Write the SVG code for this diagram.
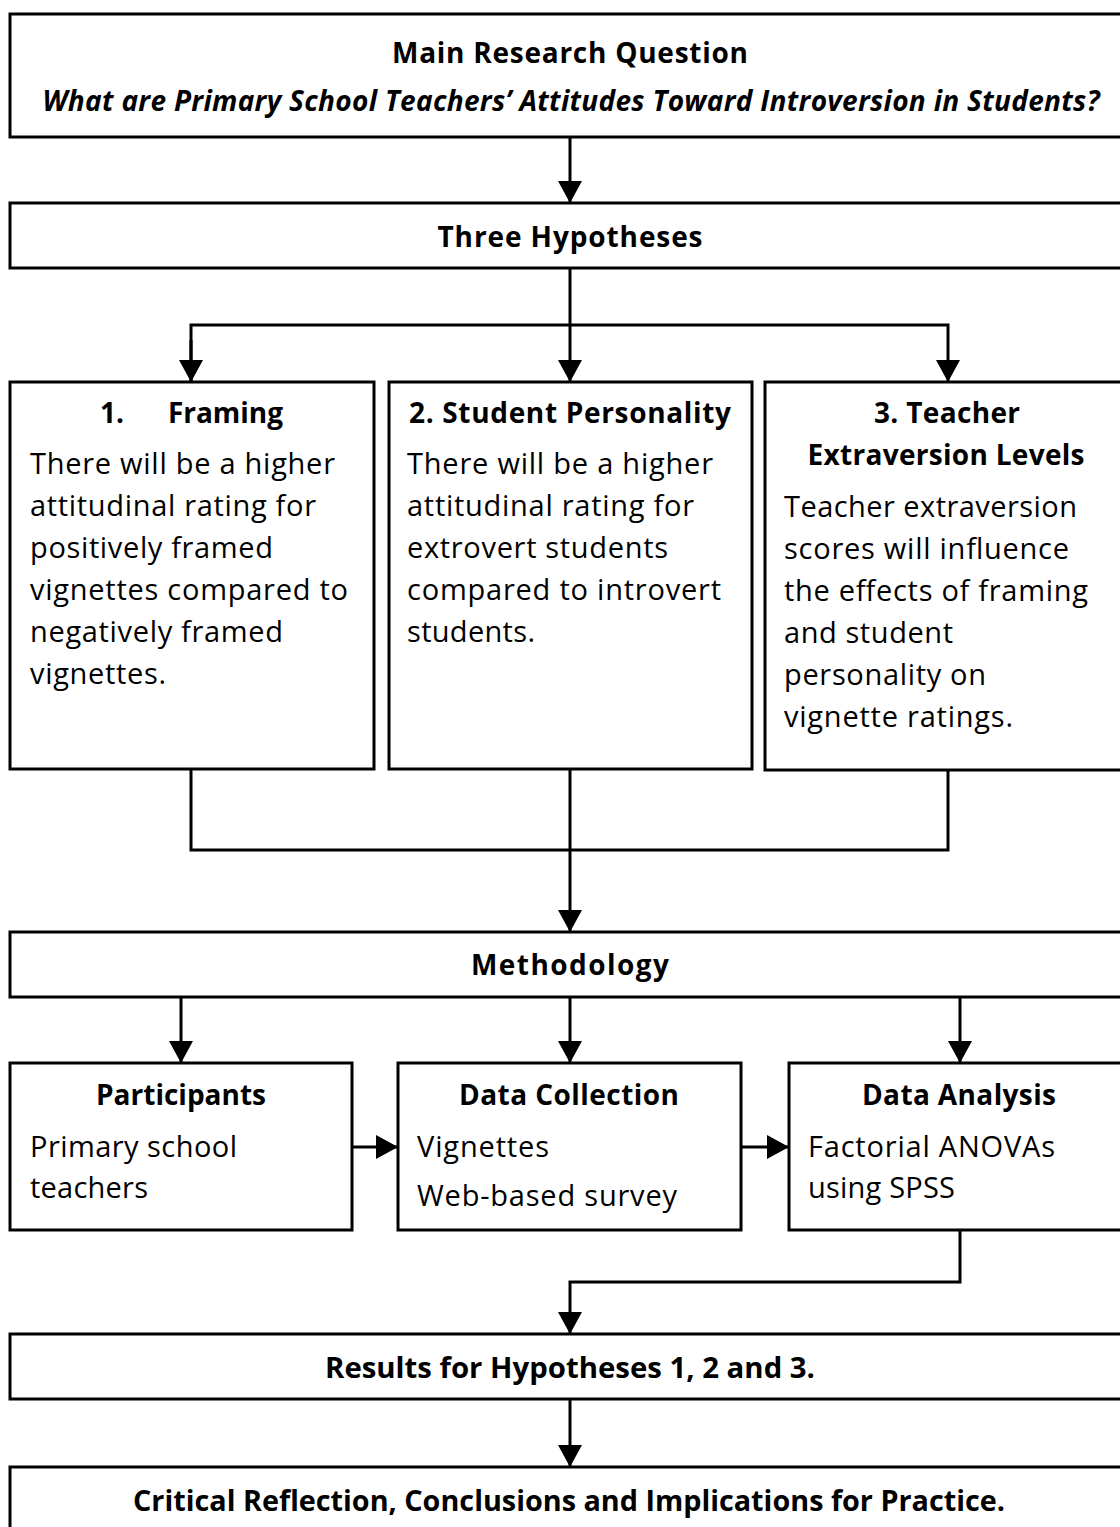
<svg xmlns="http://www.w3.org/2000/svg" width="1120" height="1527" viewBox="0 0 1120 1527">
  <style>
    .box { fill: #ffffff; stroke: #000000; stroke-width: 3; }
    .link { fill: none; stroke: #000000; stroke-width: 3; }
    .t { font-family: "Open Sans", "Noto Sans", sans-serif; font-size: 29px; fill: #000000; }
    .b { font-weight: bold; font-size: 28px; }
    .i { font-style: italic; }
    .c { text-anchor: middle; }
  </style>
  <defs>
    <marker id="arrow" markerUnits="userSpaceOnUse" markerWidth="22" markerHeight="24" refX="22" refY="12" orient="auto">
      <path d="M0,0 L22,12 L0,24 Z" fill="#000000"/>
    </marker>
  </defs>

  <rect width="1120" height="1527" fill="#ffffff"/>

  <!-- connectors -->
  <g id="connectors">
    <line class="link" x1="570" y1="137" x2="570" y2="203" marker-end="url(#arrow)"/>
    <polyline class="link" points="570,268 570,325"/>
    <polyline class="link" points="191,382 191,325 948,325 948,382" marker-end="url(#arrow)"/>
    <line class="link" x1="191" y1="340" x2="191" y2="382" marker-end="url(#arrow)"/>
    <line class="link" x1="570" y1="325" x2="570" y2="382" marker-end="url(#arrow)"/>
    <polyline class="link" points="191,769 191,850 948,850 948,770"/>
    <line class="link" x1="570" y1="769" x2="570" y2="932" marker-end="url(#arrow)"/>
    <line class="link" x1="181" y1="997" x2="181" y2="1063" marker-end="url(#arrow)"/>
    <line class="link" x1="570" y1="997" x2="570" y2="1063" marker-end="url(#arrow)"/>
    <line class="link" x1="960" y1="997" x2="960" y2="1063" marker-end="url(#arrow)"/>
    <line class="link" x1="352" y1="1147" x2="398" y2="1147" marker-end="url(#arrow)"/>
    <line class="link" x1="741" y1="1147" x2="789" y2="1147" marker-end="url(#arrow)"/>
    <polyline class="link" points="960,1230 960,1282 570,1282 570,1334" marker-end="url(#arrow)"/>
    <line class="link" x1="570" y1="1399" x2="570" y2="1467" marker-end="url(#arrow)"/>
  </g>

  <g id="question">
    <rect class="box" x="10" y="14" width="1120" height="123"/>
    <text class="t b c" x="570" y="63" textLength="356">Main Research Question</text>
    <text class="t b i c" x="571" y="111" textLength="1057">What are Primary School Teachers’ Attitudes Toward Introversion in Students?</text>
  </g>

  <g id="hypotheses">
    <rect class="box" x="10" y="203" width="1120" height="65"/>
    <text class="t b c" x="570" y="247" textLength="265">Three Hypotheses</text>
  </g>

  <g id="h1-framing">
    <rect class="box" x="10" y="382" width="364" height="387"/>
    <text class="t b" x="100" y="423">1.</text>
    <text class="t b" x="168" y="423" textLength="115">Framing</text>
    <text class="t" x="30" y="474" textLength="305">There will be a higher</text>
    <text class="t" x="30" y="516" textLength="286">attitudinal rating for</text>
    <text class="t" x="30" y="558" textLength="243">positively framed</text>
    <text class="t" x="30" y="600" textLength="318">vignettes compared to</text>
    <text class="t" x="30" y="642" textLength="253">negatively framed</text>
    <text class="t" x="30" y="684" textLength="136">vignettes.</text>
  </g>

  <g id="h2-personality">
    <rect class="box" x="389" y="382" width="363" height="387"/>
    <text class="t b c" x="570" y="423" textLength="322">2. Student Personality</text>
    <text class="t" x="407" y="474" textLength="306">There will be a higher</text>
    <text class="t" x="407" y="516" textLength="287">attitudinal rating for</text>
    <text class="t" x="407" y="558" textLength="261">extrovert students</text>
    <text class="t" x="407" y="600" textLength="314">compared to introvert</text>
    <text class="t" x="407" y="642" textLength="128">students.</text>
  </g>

  <g id="h3-extraversion">
    <rect class="box" x="765" y="382" width="365" height="388"/>
    <text class="t b c" x="947" y="423" textLength="146">3. Teacher</text>
    <text class="t b c" x="946" y="465" textLength="277">Extraversion Levels</text>
    <text class="t" x="784" y="517" textLength="293">Teacher extraversion</text>
    <text class="t" x="784" y="559" textLength="285">scores will influence</text>
    <text class="t" x="784" y="601" textLength="304">the effects of framing</text>
    <text class="t" x="784" y="643" textLength="169">and student</text>
    <text class="t" x="784" y="685" textLength="202">personality on</text>
    <text class="t" x="784" y="727" textLength="229">vignette ratings.</text>
  </g>

  <g id="methodology">
    <rect class="box" x="10" y="932" width="1120" height="65"/>
    <text class="t b c" x="570" y="975" textLength="198">Methodology</text>
  </g>

  <g id="participants">
    <rect class="box" x="10" y="1063" width="342" height="167"/>
    <text class="t b c" x="181" y="1105" textLength="170">Participants</text>
    <text class="t" x="30" y="1157" textLength="207">Primary school</text>
    <text class="t" x="30" y="1198" textLength="118">teachers</text>
  </g>

  <g id="data-collection">
    <rect class="box" x="398" y="1063" width="343" height="167"/>
    <text class="t b c" x="569" y="1105" textLength="220">Data Collection</text>
    <text class="t" x="417" y="1157" textLength="132">Vignettes</text>
    <text class="t" x="417" y="1206" textLength="260">Web-based survey</text>
  </g>

  <g id="data-analysis">
    <rect class="box" x="789" y="1063" width="341" height="167"/>
    <text class="t b c" x="959" y="1105" textLength="194">Data Analysis</text>
    <text class="t" x="808" y="1157" textLength="247">Factorial ANOVAs</text>
    <text class="t" x="808" y="1198" textLength="147">using SPSS</text>
  </g>

  <g id="results">
    <rect class="box" x="10" y="1334" width="1120" height="65"/>
    <text class="t b c" x="570" y="1378" textLength="490" lengthAdjust="spacingAndGlyphs">Results for Hypotheses 1, 2 and 3.</text>
  </g>

  <g id="reflection">
    <rect class="box" x="10" y="1467" width="1120" height="80"/>
    <text class="t b c" x="569" y="1511" textLength="872" lengthAdjust="spacingAndGlyphs">Critical  Reflection, Conclusions and Implications for Practice.</text>
  </g>
</svg>
